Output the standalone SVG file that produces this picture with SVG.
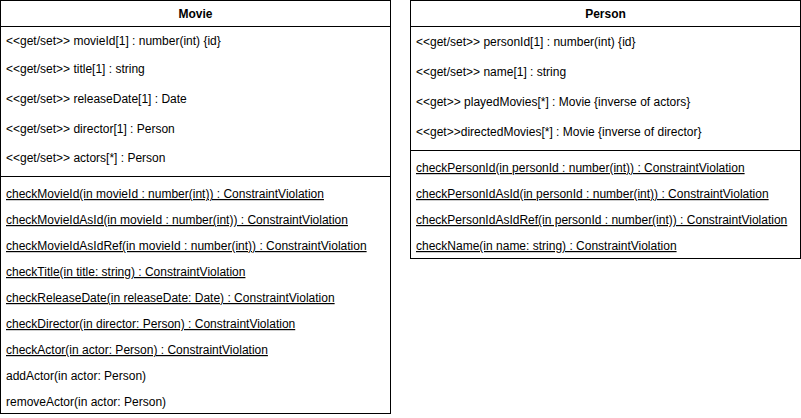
<svg xmlns="http://www.w3.org/2000/svg" width="801" height="418" viewBox="0 0 801 418">
<style>
.box{fill:#ffffff;stroke:#000000;stroke-width:1}
.sep{stroke:#000000;stroke-width:1;fill:none}
text{font-family:"Liberation Sans",Arial,Helvetica,sans-serif;font-size:12px;fill:#000000}
.title{font-weight:bold;text-anchor:middle}
.op{text-decoration:underline}
</style>
<rect x="0" y="0" width="801" height="418" fill="#ffffff"/>
<g id="Movie">
<rect class="box" x="0.5" y="0.5" width="390" height="413"/>
<line class="sep" x1="0.5" y1="26.5" x2="390.5" y2="26.5"/>
<line class="sep" x1="0.5" y1="176.5" x2="390.5" y2="176.5"/>
<text class="title" x="195.5" y="18">Movie</text>
<text x="6" y="44.5">&lt;&lt;get/set&gt;&gt; movieId[1] : number(int) {id}</text>
<text x="6" y="72.5">&lt;&lt;get/set&gt;&gt; title[1] : string</text>
<text x="6" y="102.5">&lt;&lt;get/set&gt;&gt; releaseDate[1] : Date</text>
<text x="6" y="132.5">&lt;&lt;get/set&gt;&gt; director[1] : Person</text>
<text x="6" y="161.5">&lt;&lt;get/set&gt;&gt; actors[*] : Person</text>
<text class="op" x="6" y="198">checkMovieId(in movieId : number(int)) : ConstraintViolation</text>
<text class="op" x="6" y="224">checkMovieIdAsId(in movieId : number(int)) : ConstraintViolation</text>
<text class="op" x="6" y="250">checkMovieIdAsIdRef(in movieId : number(int)) : ConstraintViolation</text>
<text class="op" x="6" y="276">checkTitle(in title: string) : ConstraintViolation</text>
<text class="op" x="6" y="302">checkReleaseDate(in releaseDate: Date) : ConstraintViolation</text>
<text class="op" x="6" y="328">checkDirector(in director: Person) : ConstraintViolation</text>
<text class="op" x="6" y="354">checkActor(in actor: Person) : ConstraintViolation</text>
<text x="6" y="380">addActor(in actor: Person)</text>
<text x="6" y="406">removeActor(in actor: Person)</text>
</g>
<g id="Person">
<rect class="box" x="410.5" y="0.5" width="390" height="258"/>
<line class="sep" x1="410.5" y1="26.5" x2="800.5" y2="26.5"/>
<line class="sep" x1="410.5" y1="150.5" x2="800.5" y2="150.5"/>
<text class="title" x="605.5" y="18">Person</text>
<text x="416" y="46">&lt;&lt;get/set&gt;&gt; personId[1] : number(int) {id}</text>
<text x="416" y="76">&lt;&lt;get/set&gt;&gt; name[1] : string</text>
<text x="416" y="106">&lt;&lt;get&gt;&gt; playedMovies[*] : Movie {inverse of actors}</text>
<text x="416" y="136">&lt;&lt;get&gt;&gt;directedMovies[*] : Movie {inverse of director}</text>
<text class="op" x="416" y="172">checkPersonId(in personId : number(int)) : ConstraintViolation</text>
<text class="op" x="416" y="198">checkPersonIdAsId(in personId : number(int)) : ConstraintViolation</text>
<text class="op" x="416" y="224">checkPersonIdAsIdRef(in personId : number(int)) : ConstraintViolation</text>
<text class="op" x="416" y="250">checkName(in name: string) : ConstraintViolation</text>
</g>
<g id="connectors"></g>
</svg>
